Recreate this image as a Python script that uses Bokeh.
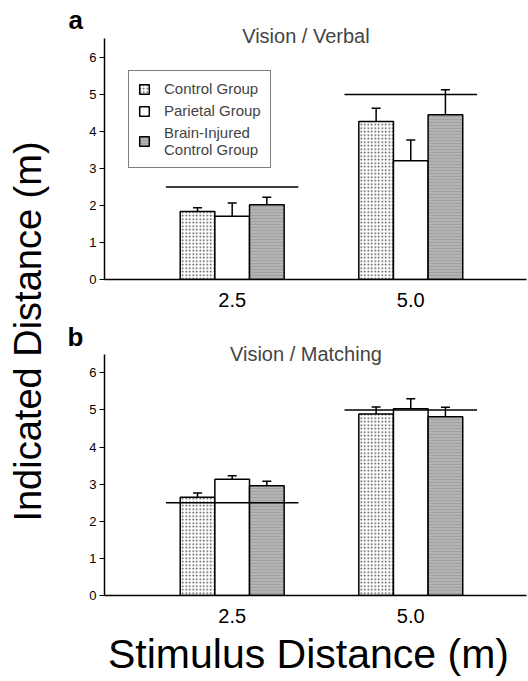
import math
from bokeh.plotting import figure
from bokeh.models import (ColumnDataSource, Whisker, TeeHead, Legend, LegendItem,
                          Label, FixedTicker, Range1d)
from bokeh.layouts import row, column
from bokeh.embed import file_html
from bokeh.resources import INLINE
from bokeh.core.properties import value

# ---------------- data ----------------
tick_labels = ["2.5", "5.0"]
stimulus_distance = [2.5, 5.0]
group_names = ["Control Group", "Parietal Group", "Brain-Injured\nControl Group"]

verbal_control = [1.84, 4.27]
verbal_control_err = [0.10, 0.36]
verbal_parietal = [1.71, 3.21]
verbal_parietal_err = [0.36, 0.56]
verbal_brain = [2.02, 4.45]
verbal_brain_err = [0.20, 0.68]

matching_control = [2.65, 4.89]
matching_control_err = [0.11, 0.19]
matching_parietal = [3.13, 5.03]
matching_parietal_err = [0.10, 0.27]
matching_brain = [2.96, 4.82]
matching_brain_err = [0.12, 0.25]

FONT = "Liberation Sans"
BW = 0.194
HALF_REF = 0.371

styles = [
    dict(fill_color="white", hatch_pattern="dot", hatch_scale=3.5, hatch_weight=0.8,
         hatch_color="#444444"),
    dict(fill_color="white"),
    dict(fill_color="#b3b3b3", hatch_pattern="horizontal_line", hatch_scale=3,
         hatch_weight=0.7, hatch_color="#9a9a9a"),
]


def make_panel(title, means, errs, height, top, bottom, y_end, title_y, legend=False):
    p = figure(width=442, height=height, x_range=Range1d(0.285, 2.648),
               y_range=Range1d(0, y_end), output_backend="svg", toolbar_location=None,
               min_border_left=17, min_border_right=2, min_border_top=top,
               min_border_bottom=bottom)
    p.grid.visible = False
    p.outline_line_color = None
    gx = list(range(1, len(tick_labels) + 1))
    renderers = []
    for i, (m, e) in enumerate(zip(means, errs)):
        xs = [g + (i - 1) * BW for g in gx]
        src = ColumnDataSource(dict(x=xs, top=m,
                                    upper=[a + b for a, b in zip(m, e)],
                                    lower=[a - b for a, b in zip(m, e)]))
        r = p.vbar(x="x", top="top", width=BW, bottom=0, source=src,
                   line_color="black", line_width=1.5, **styles[i])
        renderers.append(r)
        w = Whisker(source=src, base="x", upper="upper", lower="lower",
                    line_color="black", line_width=1.5,
                    upper_head=TeeHead(size=9, line_width=1.5, line_color="black"),
                    lower_head=TeeHead(size=9, line_width=1.5, line_color="black"))
        p.add_layout(w)
    # reference (stimulus distance) lines
    p.segment(x0=[g - HALF_REF for g in gx], x1=[g + HALF_REF for g in gx],
              y0=stimulus_distance, y1=stimulus_distance, line_color="black",
              line_width=1.5)

    # axes
    p.yaxis.ticker = FixedTicker(ticks=[0, 1, 2, 3, 4, 5, 6])
    p.yaxis.bounds = (0, 6.5)
    p.yaxis.minor_tick_line_color = None
    p.yaxis.major_tick_in = 0
    p.yaxis.major_tick_out = 5
    p.yaxis.major_label_text_font = FONT
    p.yaxis.major_label_text_font_size = "13px"
    p.yaxis.major_label_text_color = "black"
    p.yaxis.major_label_standoff = 3
    p.yaxis.axis_line_width = 1.5
    p.yaxis.major_tick_line_width = 1.2

    p.xaxis.ticker = FixedTicker(ticks=gx)
    p.xaxis.major_label_overrides = {g: t for g, t in zip(gx, tick_labels)}
    p.xaxis.minor_tick_line_color = None
    p.xaxis.major_tick_line_color = None
    p.xaxis.major_label_text_font = FONT
    p.xaxis.major_label_text_font_size = "20px"
    p.xaxis.major_label_text_color = "black"
    p.xaxis.major_label_standoff = 7
    p.xaxis.axis_line_width = 1.5

    p.add_layout(Label(x=1.413, y=title_y, text=title, text_font=FONT,
                       text_font_size="20px", text_align="center",
                       text_baseline="alphabetic"))
    if legend:
        items = [LegendItem(label=n, renderers=[r]) for n, r in zip(group_names, renderers)]
        lg = Legend(items=items, location=(24, 111), border_line_color="black",
                    border_line_width=1.5, label_text_font=FONT,
                    label_text_font_size="15px", glyph_width=12, glyph_height=12,
                    label_standoff=14, spacing=5, padding=9, margin=0,
                    label_height=14)
        p.add_layout(lg)
    return p


pa = make_panel("Vision / Verbal",
                [verbal_control, verbal_parietal, verbal_brain],
                [verbal_control_err, verbal_parietal_err, verbal_brain_err],
                318, 5, 39, y_end=7.405, title_y=6.57, legend=True)
pb = make_panel("Vision / Matching",
                [matching_control, matching_parietal, matching_brain],
                [matching_control_err, matching_parietal_err, matching_brain_err],
                307, 5, 30, y_end=7.33, title_y=6.50)

# left strip: shared y label and panel letters (pixel-unit ranges)
LH = 625
lf = figure(width=86, height=LH, x_range=Range1d(0, 86), y_range=Range1d(0, LH),
            output_backend="svg", toolbar_location=None, min_border=0,
            x_axis_type=None, y_axis_type=None)
lf.grid.visible = False
lf.outline_line_color = None
lf.text(x=[27], y=[LH - 331], text=["Indicated Distance (m)"], angle=math.pi / 2,
        text_align="center", text_baseline="alphabetic", text_font=value(FONT),
        text_font_size="38px", text_color="black")
lf.text(x=[68, 67], y=[LH - 19, LH - 336], text=["a", "b"], text_align="left",
        text_baseline="alphabetic", text_font=value(FONT), text_font_size="26px",
        text_font_style="bold", text_color="black")

# bottom strip: shared x label
XH = 56
xf = figure(width=528, height=XH, x_range=Range1d(0, 528), y_range=Range1d(0, XH),
            output_backend="svg", toolbar_location=None, min_border=0,
            x_axis_type=None, y_axis_type=None)
xf.grid.visible = False
xf.outline_line_color = None
xf.text(x=[308], y=[28], text=["Stimulus Distance (m)"], text_align="center",
        text_baseline="alphabetic", text_font=value(FONT), text_font_size="41px",
        text_color="black")

layout = column(row(lf, column(pa, pb)), xf)
open("out.html", "w").write(file_html(layout, INLINE))
